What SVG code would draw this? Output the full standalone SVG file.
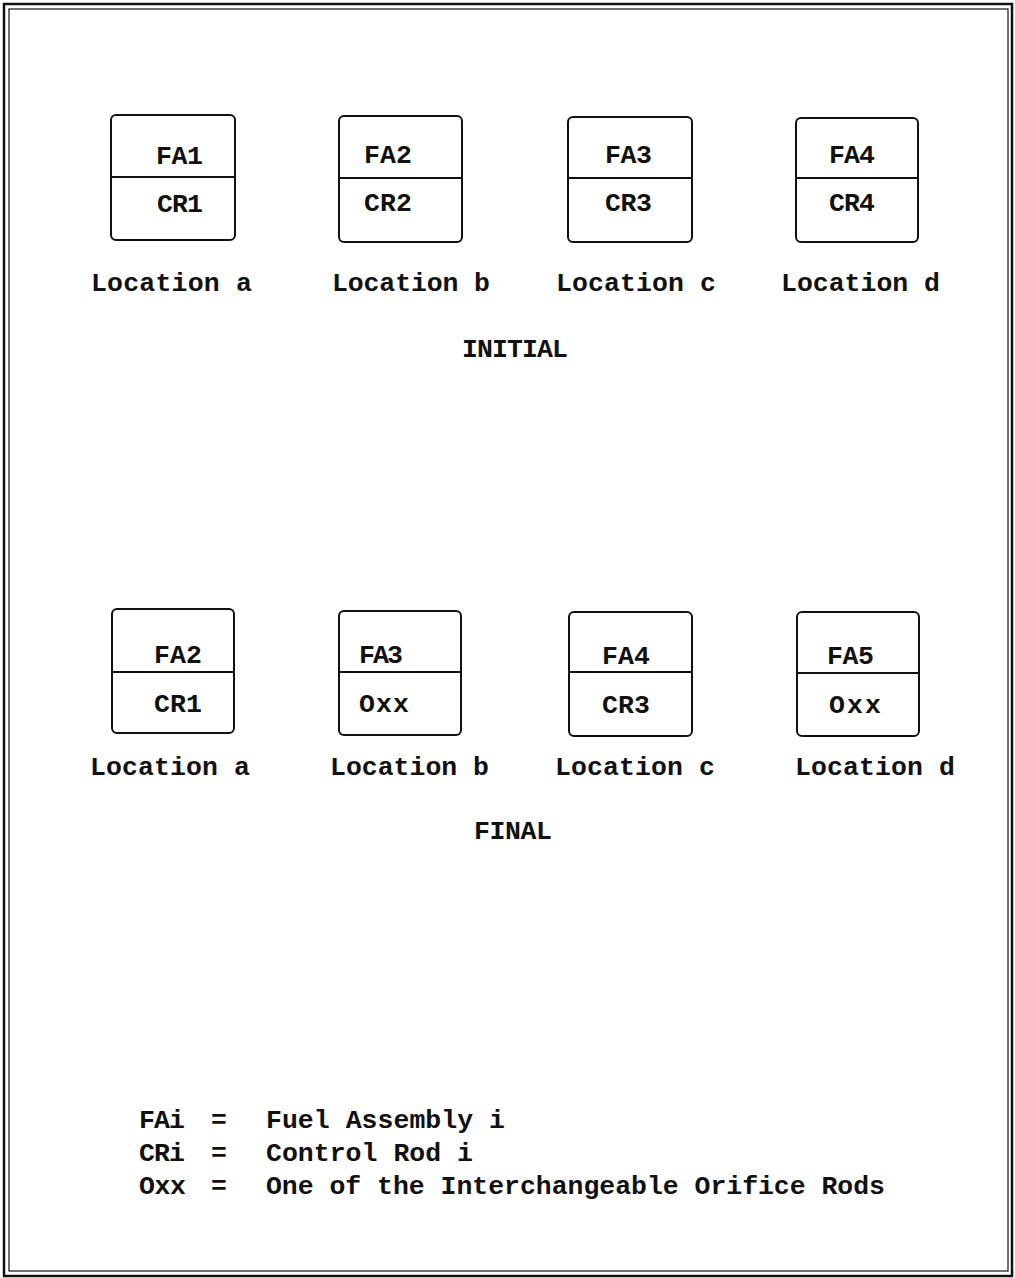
<svg xmlns="http://www.w3.org/2000/svg" width="1015" height="1278" viewBox="0 0 1015 1278">
<style>
.t{font-family:"Liberation Mono","DejaVu Sans Mono",monospace;font-size:26.5px;font-weight:bold;fill:#111}
.box{fill:none;stroke:#111;stroke-width:2}
.div{stroke:#111;stroke-width:2}
.frame{fill:none;stroke:#111}
</style>
<rect width="1015" height="1278" fill="#fff"/>
<g id="frame">
<rect class="frame" x="4" y="4" width="1008" height="1272" stroke-width="2.5"/>
<rect class="frame" x="9" y="9" width="999" height="1262" stroke-width="1.2"/>
</g>
<g id="initial-a"><rect class="box" x="111" y="115" width="124" height="125" rx="5"/><line class="div" x1="111" y1="177" x2="235" y2="177"/><text class="t" x="156" y="164" textLength="47">FA1</text><text class="t" x="157" y="212" textLength="46">CR1</text><text class="t" x="91" y="291" textLength="161">Location a</text></g>
<g id="initial-b"><rect class="box" x="339" y="116" width="123" height="126" rx="5"/><line class="div" x1="339" y1="178" x2="462" y2="178"/><text class="t" x="364" y="163" textLength="48">FA2</text><text class="t" x="364" y="211" textLength="48">CR2</text><text class="t" x="332" y="291" textLength="158">Location b</text></g>
<g id="initial-c"><rect class="box" x="568" y="117" width="124" height="125" rx="5"/><line class="div" x1="568" y1="178" x2="692" y2="178"/><text class="t" x="605" y="163" textLength="47">FA3</text><text class="t" x="605" y="211" textLength="47">CR3</text><text class="t" x="556" y="291" textLength="160">Location c</text></g>
<g id="initial-d"><rect class="box" x="796" y="118" width="122" height="124" rx="5"/><line class="div" x1="796" y1="178" x2="918" y2="178"/><text class="t" x="829" y="163" textLength="46">FA4</text><text class="t" x="829" y="211" textLength="46">CR4</text><text class="t" x="781" y="291" textLength="159">Location d</text></g>
<text id="label-initial" class="t" x="462" y="357" textLength="106">INITIAL</text>
<g id="final-a"><rect class="box" x="112" y="609" width="122" height="124" rx="5"/><line class="div" x1="112" y1="672" x2="234" y2="672"/><text class="t" x="154" y="663" textLength="48">FA2</text><text class="t" x="154" y="712" textLength="48">CR1</text><text class="t" x="90" y="775" textLength="160">Location a</text></g>
<g id="final-b"><rect class="box" x="339" y="611" width="122" height="124" rx="5"/><line class="div" x1="339" y1="672" x2="461" y2="672"/><text class="t" x="359" y="663" textLength="44">FA3</text><text class="t" x="359" y="712" textLength="50">Oxx</text><text class="t" x="330" y="775" textLength="159">Location b</text></g>
<g id="final-c"><rect class="box" x="569" y="612" width="123" height="124" rx="5"/><line class="div" x1="569" y1="672" x2="692" y2="672"/><text class="t" x="602" y="664" textLength="48">FA4</text><text class="t" x="602" y="713" textLength="48">CR3</text><text class="t" x="555" y="775" textLength="160">Location c</text></g>
<g id="final-d"><rect class="box" x="797" y="612" width="122" height="124" rx="5"/><line class="div" x1="797" y1="673" x2="919" y2="673"/><text class="t" x="827" y="664" textLength="47">FA5</text><text class="t" x="829" y="713" textLength="52">Oxx</text><text class="t" x="795" y="775" textLength="160">Location d</text></g>
<text id="label-final" class="t" x="474" y="839" textLength="78">FINAL</text>
<g id="legend">
<text class="t" x="139" y="1128" textLength="46">FAi</text><text class="t" x="211" y="1128">=</text><text class="t" x="266" y="1128" textLength="239">Fuel Assembly i</text>
<text class="t" x="139" y="1161" textLength="46">CRi</text><text class="t" x="211" y="1161">=</text><text class="t" x="266" y="1161" textLength="207">Control Rod i</text>
<text class="t" x="139" y="1194" textLength="47">Oxx</text><text class="t" x="211" y="1194">=</text><text class="t" x="266" y="1194" textLength="619">One of the Interchangeable Orifice Rods</text>
</g>
<g id="connectors"/>
</svg>
